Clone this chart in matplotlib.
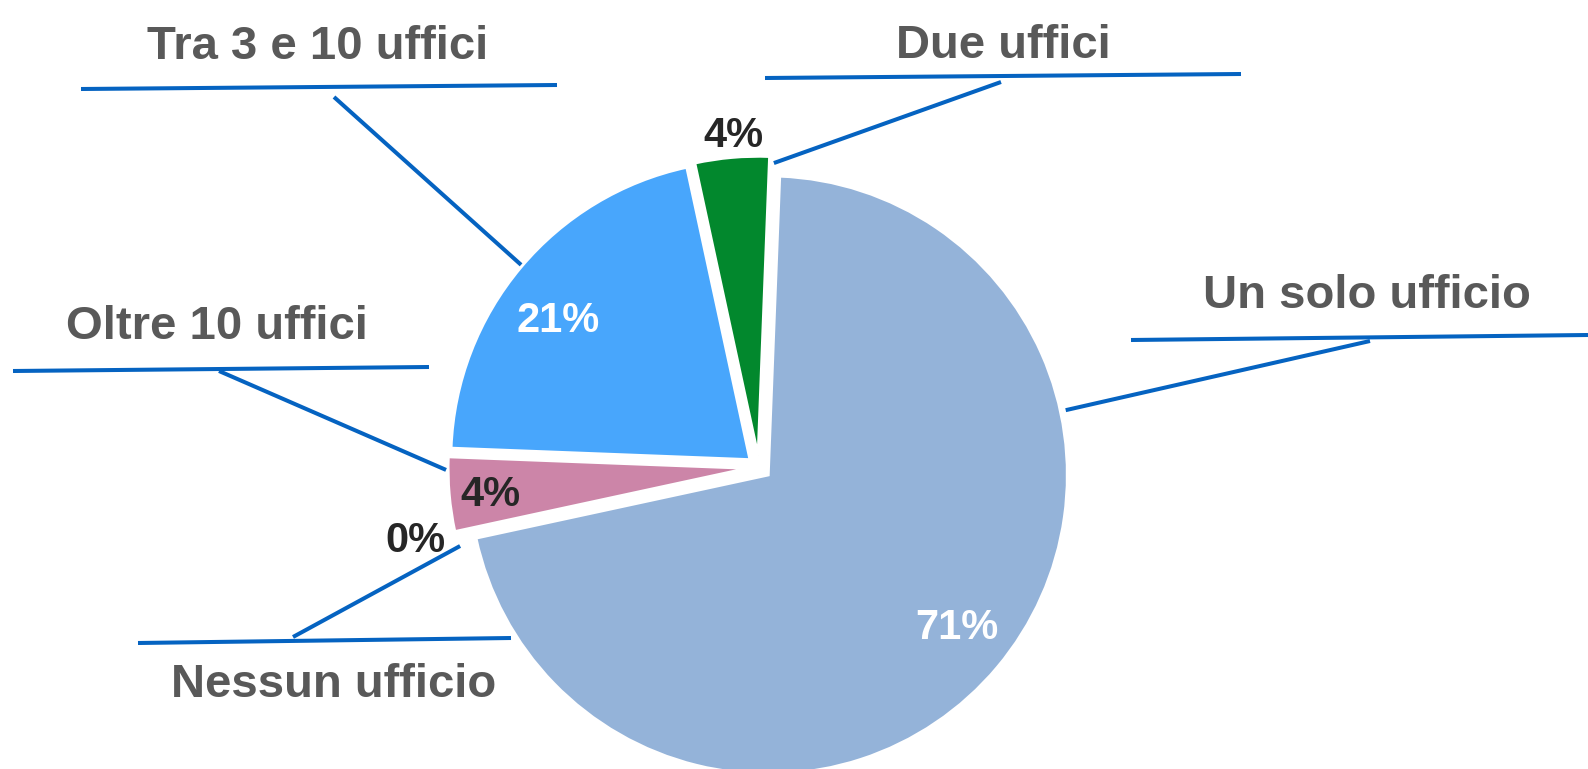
import matplotlib
matplotlib.use("Agg")
import matplotlib.pyplot as plt
import numpy as np

# ---- data ----
categories = ["Un solo ufficio", "Nessun ufficio", "Oltre 10 uffici",
              "Tra 3 e 10 uffici", "Due uffici"]
values = [71, 0, 4, 21, 4]
colors = ["#94B3D9", "#8EA9CF", "#CC85A8", "#48A6FC", "#02882D"]
pct_colors = ["white", "#262626", "#262626", "white", "#262626"]

# ---- layout (pixel space of the 1588x769 canvas, y measured from top) ----
W, H = 1588, 769
FONT = ["Liberation Sans", "DejaVu Sans"]
LINE_C = "#0563C1"
LABEL_C = "#595959"
START_ANGLE = 87.8

# percent label: (distance as fraction of radius, angle offset from bisector)
pct_layout = [(0.805, 1.75), (1.134, -0.8), (0.863, 0.0), (0.80, 3.4), (1.085, -0.6)]
# category label: text x, baseline y, horizontal rule (x0,y0,x1,y1),
# elbow point, leader arc angle (deg) and distance factor
cat_layout = [
    dict(tx=1367, ty=308, rule=(1131, 340, 1588, 335), elbow=(1370, 341), ang=12.3, dist=1.018),
    dict(tx=334, ty=697, rule=(138, 643, 511, 638), elbow=(293, 637), ang=194.85, dist=0.994),
    dict(tx=217, ty=339, rule=(13, 371, 429, 367), elbow=(219, 371), ang=180.3, dist=1.007),
    dict(tx=318, ty=59, rule=(81, 89, 557, 85), elbow=(334, 97), ang=139.6, dist=1.005),
    dict(tx=1003, ty=58, rule=(765, 78, 1241, 74), elbow=(1001, 82), ang=86.9, dist=0.979),
]

def P(x, y):
    return (x, H - y)

fig = plt.figure(figsize=(W / 100, H / 100), dpi=100)
ax = fig.add_axes([0, 0, 1, 1])

center = P(759.1, 467.3)
R = 299
wedges, _ = ax.pie(values, colors=colors, startangle=START_ANGLE, counterclock=False,
                   radius=R, center=center, explode=[12] * len(values),
                   wedgeprops=dict(edgecolor="white", linewidth=2))
ax.set_xlim(0, W)
ax.set_ylim(0, H)
ax.set_aspect("equal")
ax.axis("off")

for i, w in enumerate(wedges):
    cx, cy = w.center
    mid = 0.5 * (w.theta1 + w.theta2)
    f, off = pct_layout[i]
    a = np.deg2rad(mid + off)
    px = cx + f * R * np.cos(a)
    py = cy + f * R * np.sin(a)
    ax.text(px, py - 15, f"{values[i]}%", ha="center", va="baseline",
            fontsize=30, fontweight="bold", color=pct_colors[i], family=FONT)

    L = cat_layout[i]
    x0, y0, x1, y1 = L["rule"]
    ax.plot([x0, x1], [H - y0, H - y1], color=LINE_C, lw=2.9,
            solid_capstyle="butt", clip_on=False)
    aa = np.deg2rad(L["ang"])
    ex = cx + L["dist"] * R * np.cos(aa)
    ey = cy + L["dist"] * R * np.sin(aa)
    bx, by = P(*L["elbow"])
    ax.plot([bx, ex], [by, ey], color=LINE_C, lw=2.9, solid_capstyle="butt")
    ax.text(L["tx"], H - L["ty"], categories[i], ha="center", va="baseline",
            fontsize=34, fontweight="bold", color=LABEL_C, family=FONT)

fig.savefig("out.png", dpi=100, facecolor="white")
